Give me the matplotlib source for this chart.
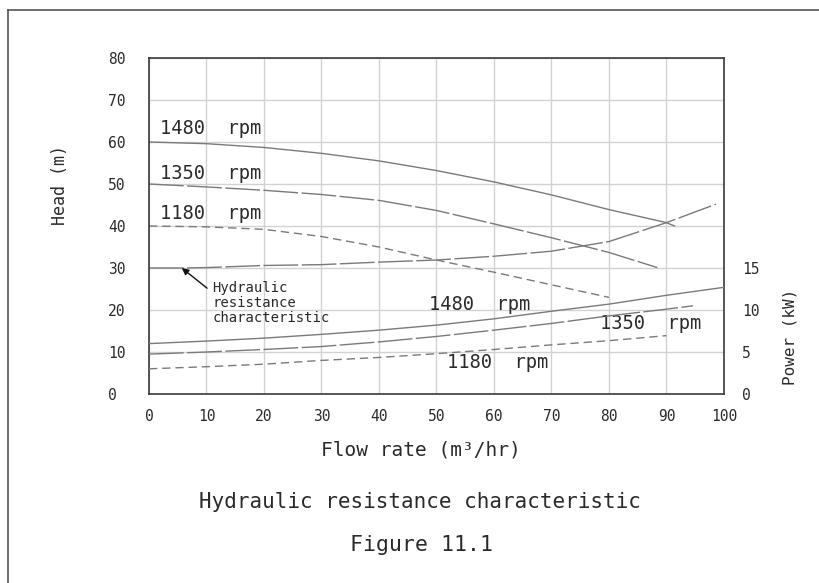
import matplotlib
matplotlib.use("Agg")
import matplotlib.pyplot as plt
from matplotlib.lines import Line2D

# ---------------- data ----------------
head_1480_flow = [0, 10, 20, 30, 40, 50, 60, 70, 80, 90, 91.4]
head_1480 = [60, 59.6, 58.7, 57.3, 55.5, 53.2, 50.5, 47.4, 43.9, 40.8, 40.0]

head_1350_flow = [0, 10, 20, 30, 40, 50, 60, 70, 80, 88.4]
head_1350 = [50, 49.3, 48.5, 47.5, 46.1, 43.7, 40.5, 37.2, 33.7, 30.1]

head_1180_flow = [0, 10, 20, 30, 40, 50, 60, 70, 80]
head_1180 = [40, 39.8, 39.2, 37.5, 35.0, 31.9, 29.0, 26.0, 23.0]

system_flow = [0, 6, 10, 20, 30, 40, 50, 60, 70, 80, 90, 98.6]
system_head = [30, 30, 30.1, 30.6, 30.8, 31.4, 31.9, 32.8, 34.0, 36.3, 40.8, 45.2]

power_1480_flow = [0, 10, 20, 30, 40, 50, 60, 70, 80, 90, 100]
power_1480 = [6.0, 6.3, 6.65, 7.1, 7.6, 8.2, 8.95, 9.85, 10.7, 11.75, 12.7]

power_1350_flow = [0, 10, 20, 30, 40, 50, 60, 70, 80, 90, 94.6]
power_1350 = [4.75, 5.0, 5.3, 5.65, 6.2, 6.85, 7.6, 8.4, 9.3, 10.1, 10.5]

power_1180_flow = [0, 10, 20, 30, 40, 50, 60, 70, 80, 90]
power_1180 = [3.0, 3.25, 3.55, 4.0, 4.35, 4.8, 5.3, 5.85, 6.35, 6.95]

x_ticks = [0, 10, 20, 30, 40, 50, 60, 70, 80, 90, 100]
head_ticks = [0, 10, 20, 30, 40, 50, 60, 70, 80]
power_ticks = [0, 5, 10, 15]

# ---------------- style ----------------
plt.rcParams['font.family'] = ['DejaVu Sans Mono']
LINE = '#7a7a7a'
TXT = '#2a2a2a'
GRID = '#d2d2d2'
SPINE = '#3a3a3a'
long_dash = (0, (25, 2.5))
short_dash = (0, (6, 3.5))

fig = plt.figure(figsize=(8.2, 5.83), dpi=100)
W, H = 820.0, 583.0
ax = fig.add_axes([149 / W, 1 - 394 / H, 575 / W, 336 / H])

ax.set_xlim(0, 100)
ax.set_ylim(0, 80)
ax.set_xticks(x_ticks)
ax.set_yticks(head_ticks)
ax.grid(True, color=GRID, lw=1.0)
ax.set_axisbelow(True)
for s in ax.spines.values():
    s.set_color(SPINE)
    s.set_linewidth(1.2)
ax.tick_params(axis='both', length=0, labelsize=10.5, labelcolor=TXT)
ax.tick_params(axis='y', pad=29.5)
ax.tick_params(axis='x', pad=11)
for lab in ax.get_yticklabels():
    lab.set_horizontalalignment('left')

# head curves
ax.plot(head_1480_flow, head_1480, color=LINE, lw=1.0, ls='-')
ax.plot(head_1350_flow, head_1350, color=LINE, lw=1.0, ls=long_dash)
ax.plot(head_1180_flow, head_1180, color=LINE, lw=1.0, ls=short_dash)
ax.plot(system_flow, system_head, color=LINE, lw=1.0, ls=long_dash)

# power on twin axis
ax2 = ax.twinx()
ax2.set_ylim(0, 40)
ax2.set_yticks(power_ticks)
ax2.tick_params(axis='y', length=0, labelsize=10.5, labelcolor=TXT, pad=13)
for s in ax2.spines.values():
    s.set_visible(False)
ax2.plot(power_1480_flow, power_1480, color=LINE, lw=1.0, ls='-')
ax2.plot(power_1350_flow, power_1350, color=LINE, lw=1.0, ls=long_dash)
ax2.plot(power_1180_flow, power_1180, color=LINE, lw=1.0, ls=short_dash)

# curve labels
lbl = dict(fontsize=13.5, color=TXT, ha='left', va='center')
ax.text(1.9, 63.1, '1480  rpm', **lbl)
ax.text(1.9, 52.4, '1350  rpm', **lbl)
ax.text(1.9, 42.9, '1180  rpm', **lbl)
ax.text(48.7, 21.4, '1480  rpm', **lbl)
ax.text(78.4, 16.7, '1350  rpm', **lbl)
ax.text(51.8, 7.5, '1180  rpm', **lbl)

ax.annotate('', xy=(5.7, 30), xytext=(10.1, 25.2),
            arrowprops=dict(arrowstyle='-|>', color='#111111', lw=1.0,
                            mutation_scale=10, shrinkA=0, shrinkB=0))
ax.text(11.0, 27.0, 'Hydraulic\nresistance\ncharacteristic', fontsize=10,
        color=TXT, ha='left', va='top', linespacing=1.1)

# axis labels and captions
fig.text(60 / W, 1 - 185 / H, 'Head (m)', rotation=90, fontsize=12,
         color=TXT, ha='center', va='center')
fig.text(790 / W, 1 - 337 / H, 'Power (kW)', rotation=90, fontsize=11.5,
         color=TXT, ha='center', va='center')
fig.text(421 / W, 1 - 450 / H, 'Flow rate (m³/hr)', fontsize=14,
         color=TXT, ha='center', va='center')
fig.text(420 / W, 1 - 502 / H, 'Hydraulic resistance characteristic',
         fontsize=15, color=TXT, ha='center', va='center')
fig.text(422 / W, 1 - 545 / H, 'Figure 11.1', fontsize=15.5,
         color=TXT, ha='center', va='center')

# outer frame (left and top edges only)
fig.add_artist(Line2D([8 / W, 8 / W], [0, 1 - 10 / H], transform=fig.transFigure,
                      color='#555555', lw=1.2))
fig.add_artist(Line2D([8 / W, 1.0], [1 - 10 / H, 1 - 10 / H], transform=fig.transFigure,
                      color='#555555', lw=1.2))

fig.savefig('out.png', dpi=100)
